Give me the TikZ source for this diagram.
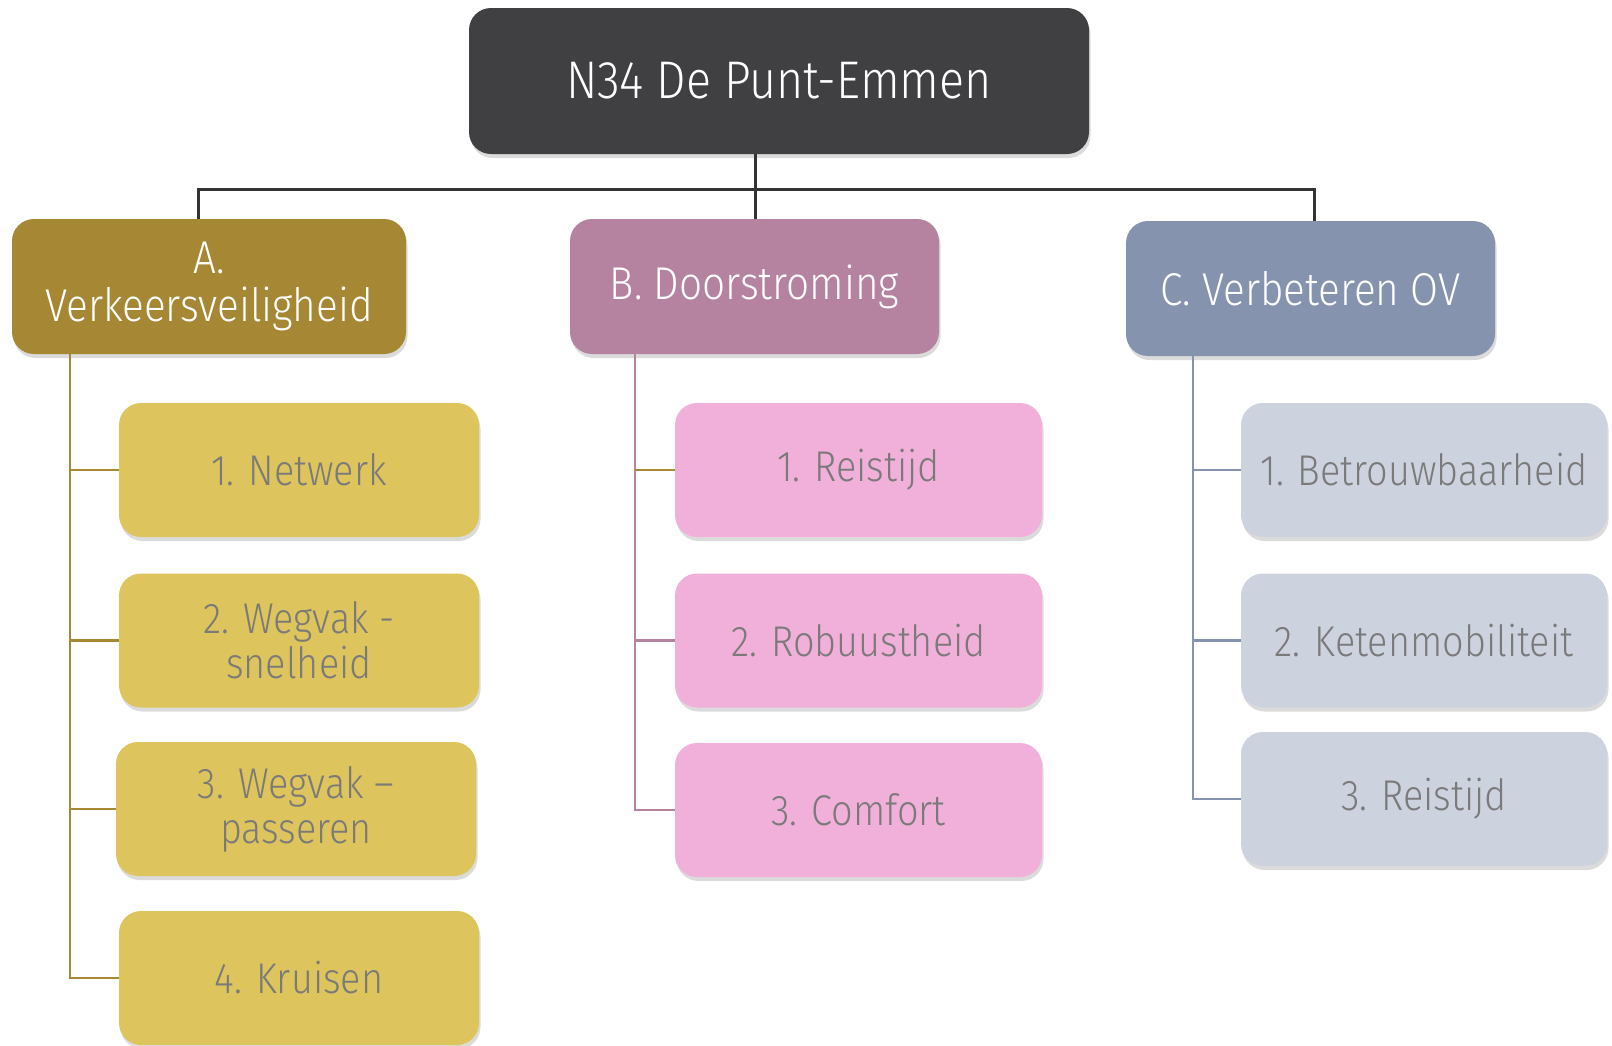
\documentclass[tikz,border=0pt]{standalone}
\usepackage{fontspec}
\setmainfont{Fira Sans}[UprightFont=* Light, FakeStretch=0.88]
\usetikzlibrary{shadows}
\definecolor{topc}{HTML}{404042}
\definecolor{ac}{HTML}{A68733}
\definecolor{acc}{HTML}{DDC45C}
\definecolor{bc}{HTML}{B5829F}
\definecolor{bcc}{HTML}{F1B0DA}
\definecolor{cc}{HTML}{8693AE}
\definecolor{ccc}{HTML}{CCD2DE}
\definecolor{txtg}{HTML}{7A7A7A}
\definecolor{linec}{HTML}{333335}
\tikzset{
  base/.style={rounded corners=22pt, inner sep=0pt, align=center,
    drop shadow={opacity=0.28, shadow xshift=1.5pt, shadow yshift=-4pt}},
  topbox/.style={base, fill=topc, text=white, minimum width=620pt, minimum height=146pt,
    font=\fontsize{53}{56}\selectfont},
  headbox/.style={base, text=white, minimum width=369pt, minimum height=135pt,
    font=\fontsize{46}{48}\selectfont},
  childbox/.style={base, text=txtg, minimum height=134pt,
    font=\fontsize{43}{45}\selectfont},
  achild/.style={childbox, fill=acc, minimum width=360pt},
  bchild/.style={childbox, fill=bcc, minimum width=367pt},
  cchild/.style={childbox, fill=ccc, minimum width=366pt},
  busline/.style={draw=linec, line width=3pt},
  aline/.style={draw=ac, line width=2.2pt},
  bline/.style={draw=bc, line width=2.2pt},
  cline/.style={draw=cc, line width=2.6pt},
}
\begin{document}
\begin{tikzpicture}[x=1pt,y=-1pt]
\useasboundingbox[fill=white] (0,0) rectangle (1612,1045);

\coordinate (j) at (755,189);
\coordinate (busA) at (198,189);
\coordinate (busC) at (1314,189);
\coordinate (ta) at (70,354);
\coordinate (tb) at (635,354);
\coordinate (tc) at (1193,356);

\node[topbox] (top) at (779,81) {N34 De Punt-Emmen};
\node[headbox, fill=ac, minimum width=394pt] (A) at (209,286.5) {A.\\Verkeersveiligheid};
\node[headbox, fill=bc] (B) at (754.5,286.5) {B. Doorstroming};
\node[headbox, fill=cc] (C) at (1310.5,288.5) {C. Verbeteren OV};

\node[achild] (A1) at (299,470) {1. Netwerk};
\node[achild] (A2) at (299,640.5) {2. Wegvak -\\snelheid};
\node[achild] (A3) at (296,809) {3. Wegvak –\\passeren};
\node[achild] (A4) at (299,978) {4. Kruisen};

\node[bchild] (B1) at (858.5,470) {1. Reistijd};
\node[bchild] (B2) at (858.5,640.5) {2. Robuustheid};
\node[bchild] (B3) at (858.5,810) {3. Comfort};

\node[cchild] (C1) at (1424,470) {1. Betrouwbaarheid};
\node[cchild] (C2) at (1424,640.5) {2. Ketenmobiliteit};
\node[cchild] (C3) at (1424,799) {3. Reistijd};

% bus
\draw[busline] (top.south -| j) -- (j);
\draw[busline] (busA |- A.north) -- (busA) -- (busC) -- (busC |- C.north);
\draw[busline] (j) -- (j |- B.north);

% A trunk
\draw[aline] (ta) -- (ta |- A4.west) -- (A4.west);
\draw[aline] (ta |- A1.west) -- (A1.west);
\draw[aline] (ta |- A2.west) -- (A2.west);
\draw[aline] (ta |- A3.west) -- (A3.west);

% B trunk
\draw[bline] (tb) -- (tb |- B3.west) -- (B3.west);
\draw[aline] (tb |- B1.west) -- (B1.west);
\draw[bline] (tb |- B2.west) -- (B2.west);

% C trunk
\draw[cline] (tc) -- (tc |- C3.west) -- (C3.west);
\draw[cline] (tc |- C1.west) -- (C1.west);
\draw[cline] (tc |- C2.west) -- (C2.west);
\end{tikzpicture}
\end{document}
